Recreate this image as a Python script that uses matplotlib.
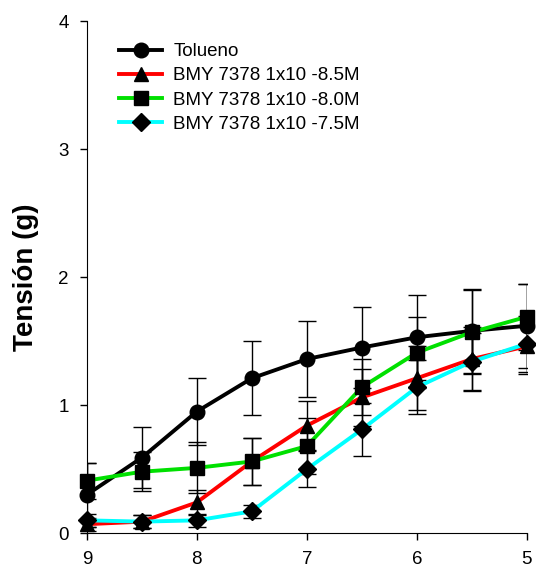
import numpy as np
import matplotlib.pyplot as plt

plt.rcParams['font.family'] = ['Liberation Sans', 'DejaVu Sans']

dose = [9, 8.5, 8, 7.5, 7, 6.5, 6, 5.5, 5]

tolueno = [0.30, 0.59, 0.95, 1.21, 1.36, 1.45, 1.53, 1.58, 1.62]
tolueno_err = [0.25, 0.24, 0.26, 0.29, 0.30, 0.32, 0.33, 0.33, 0.33]

bmy_85 = [0.07, 0.09, 0.24, 0.56, 0.84, 1.06, 1.21, 1.36, 1.46]
bmy_85_err = [0.05, 0.05, 0.10, 0.18, 0.19, 0.22, 0.25, 0.25, 0.22]

bmy_80 = [0.41, 0.48, 0.51, 0.56, 0.68, 1.14, 1.41, 1.57, 1.69]
bmy_80_err = [0.14, 0.15, 0.20, 0.18, 0.22, 0.22, 0.28, 0.33, 0.26]

bmy_75 = [0.10, 0.09, 0.10, 0.17, 0.50, 0.81, 1.14, 1.34, 1.48]
bmy_75_err = [0.05, 0.05, 0.05, 0.05, 0.14, 0.21, 0.21, 0.22, 0.22]

labels = ['Tolueno', 'BMY 7378 1x10 -8.5M', 'BMY 7378 1x10 -8.0M',
          'BMY 7378 1x10 -7.5M']

fig = plt.figure(figsize=(5.36, 5.69), dpi=100)
ax = fig.add_axes([0.162, 0.063, 0.821, 0.90])

series = [
    (tolueno, tolueno_err, 'black', 'o', 10.5),
    (bmy_85, bmy_85_err, 'red', '^', 10.5),
    (bmy_80, bmy_80_err, '#00e000', 's', 9.5),
    (bmy_75, bmy_75_err, 'cyan', 'D', 9.5),
]

# error bars first, then the coloured lines with black markers
for vals, err, col, mk, ms in series:
    ax.errorbar(dose, vals, yerr=err, fmt='none', ecolor='black',
                elinewidth=1.0, capsize=6.5, capthick=1.0, zorder=2)

for (vals, err, col, mk, ms), lab in zip(series, labels):
    ax.plot(dose, vals, color=col, lw=2.8, marker=mk, ms=ms,
            mfc='black', mec='black', label=lab, zorder=3, clip_on=False)

ax.set_xlim(9, 5)
ax.set_ylim(0, 4)
ax.set_xticks([9, 8, 7, 6, 5])
ax.set_yticks([0, 1, 2, 3, 4])
ax.tick_params(labelsize=13.5, length=5, width=1, pad=8)
ax.spines['top'].set_visible(False)
ax.spines['right'].set_visible(False)
ax.set_ylabel('Tensión (g)', fontsize=20, fontweight='bold', labelpad=14)

ax.legend(loc='upper left', bbox_to_anchor=(0.035, 0.99), frameon=False,
          fontsize=13.5, handlelength=2.3, labelspacing=0.38,
          handletextpad=0.6)

fig.savefig('out.png', dpi=100)
